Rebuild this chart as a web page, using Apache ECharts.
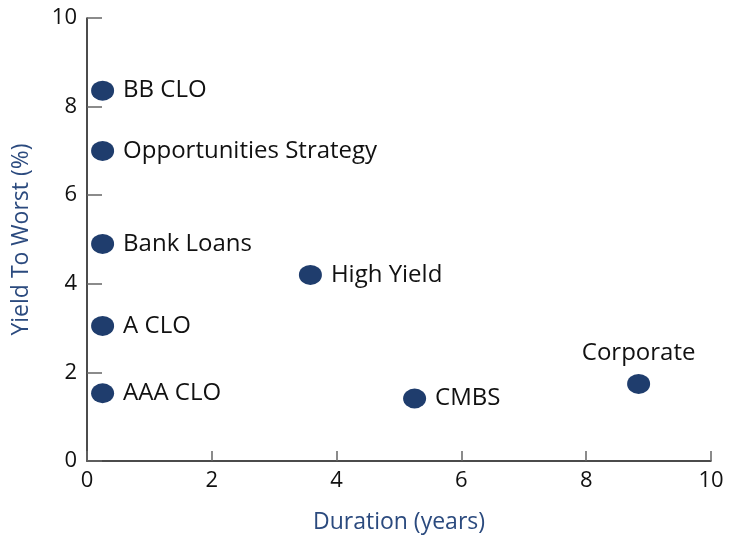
<!DOCTYPE html>
<html>
<head>
<meta charset="utf-8">
<script src="https://cdn.jsdelivr.net/npm/echarts@6/dist/echarts.min.js"></script>
<style>
  html, body { margin: 0; padding: 0; background: #fff; }
  #chart { width: 740px; height: 535px; }
</style>
</head>
<body>
<div id="chart"></div>
<script>
// 资产名称
var names = ['BB CLO', 'Opportunities Strategy', 'Bank Loans', 'High Yield', 'A CLO', 'AAA CLO', 'CMBS', 'Corporate'];
// 久期 (年)
var duration = [0.25, 0.25, 0.25, 3.58, 0.25, 0.25, 5.25, 8.84];
// 到期收益率 (%)
var yieldToWorst = [8.36, 7.0, 4.9, 4.2, 3.05, 1.53, 1.41, 1.74];
// 标签位置
var labelPos = ['right', 'right', 'right', 'right', 'right', 'right', 'right', 'top'];

var font = '"Open Sans", sans-serif';
var dotColor = '#1f3d6d';

var points = [];
for (var i = 0; i < names.length; i++) {
    points.push({
        name: names[i],
        value: [duration[i], yieldToWorst[i]],
        label: { position: labelPos[i] }
    });
}

var myChart = echarts.init(document.getElementById('chart'));
myChart.setOption({
    animation: false,
    grid: { left: 87, right: 29, top: 18, bottom: 74, containLabel: false, outerBoundsMode: 'none' },
    xAxis: {
        type: 'value',
        min: 0, max: 10, interval: 2,
        name: 'Duration (years)',
        nameLocation: 'middle',
        nameGap: 50,
        nameTextStyle: { color: '#2b4a7e', fontSize: 23, fontFamily: font },
        axisLine: { lineStyle: { color: '#111', width: 1.5 } },
        axisTick: { inside: true, length: 10, lineStyle: { color: '#666', width: 1.5 } },
        axisLabel: { color: '#111', fontSize: 22, fontFamily: font, margin: 9 },
        splitLine: { show: false }
    },
    yAxis: {
        type: 'value',
        min: 0, max: 10, interval: 2,
        name: 'Yield To Worst (%)',
        nameLocation: 'middle',
        nameGap: 54,
        nameTextStyle: { color: '#2b4a7e', fontSize: 23, fontFamily: font },
        axisLine: { lineStyle: { color: '#111', width: 1.5 } },
        axisTick: { inside: true, length: 15, lineStyle: { color: '#666', width: 1.5 } },
        axisLabel: { color: '#111', fontSize: 22, fontFamily: font, margin: 10 },
        splitLine: { show: false }
    },
    series: [{
        type: 'scatter',
        symbol: 'circle',
        symbolSize: [23, 20],
        itemStyle: { color: dotColor, opacity: 1 },
        label: {
            show: true,
            formatter: '{b}',
            color: '#111',
            fontSize: 24,
            fontFamily: font,
            distance: 9
        },
        data: points
    }]
});
</script>
</body>
</html>
